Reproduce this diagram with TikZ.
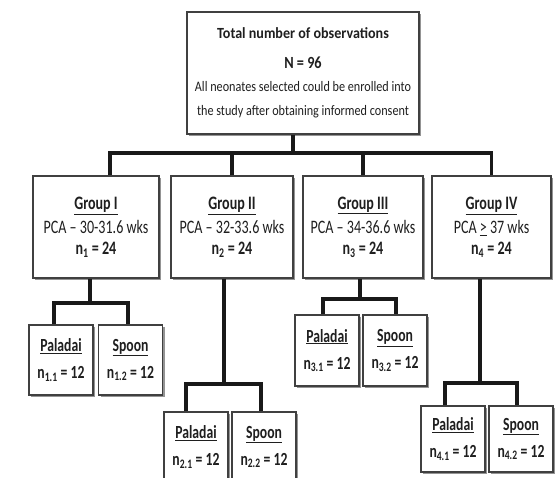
\documentclass[tikz,border=0pt]{standalone}
\usepackage{fontspec}
\setmainfont{Carlito}[FakeStretch=0.74]
\newfontfamily\titlefont{Carlito}[FakeStretch=0.91]
\newfontfamily\notefont{Carlito}[FakeStretch=0.84]
\usetikzlibrary{shadows}
\begin{document}
\begin{tikzpicture}[x=1pt,y=-1pt,
  box/.style={draw=black!75, line width=1.3pt, fill=white, inner sep=0pt, align=center,
    text=black!88, drop shadow={shadow xshift=2pt, shadow yshift=-2pt, fill=black!60, opacity=0.7}},
  conn/.style={line width=3.2pt, black!90},
  gtxt/.style={font=\fontsize{19}{22}\selectfont},
  sub/.style={box, font=\fontsize{18.5}{22}\selectfont\bfseries, minimum width=64pt, minimum height=70pt}]
\useasboundingbox (0,0) rectangle (556,477);
% top box
\node[box, font=\notefont\fontsize{14.5}{22}\selectfont, minimum width=232pt, minimum height=122pt] (top) at (303,73)
  {{\titlefont\bfseries\fontsize{15.5}{22}\selectfont Total number of observations}\\[8pt]
   {\bfseries\fontsize{17}{22}\selectfont N = 96}\\[1pt]
   All neonates selected could be enrolled into\\[2pt]
   the study after obtaining informed consent};
% groups
\node[box, gtxt, minimum width=126pt, minimum height=102pt] (g1) at (96,227)
  {\textbf{\underline{Group I}}\\[2pt] PCA -- 30-31.6 wks\\[-1pt] \textbf{n\textsubscript{1} = 24}};
\node[box, gtxt, minimum width=122pt, minimum height=102pt] (g2) at (232,227)
  {\textbf{\underline{Group II}}\\[2pt] PCA -- 32-33.6 wks\\[-1pt] \textbf{n\textsubscript{2} = 24}};
\node[box, gtxt, minimum width=120pt, minimum height=102pt] (g3) at (363,227)
  {\textbf{\underline{Group III}}\\[2pt] PCA -- 34-36.6 wks\\[-1pt] \textbf{n\textsubscript{3} = 24}};
\node[box, gtxt, minimum width=119pt, minimum height=102pt] (g4) at (491.5,227)
  {\textbf{\underline{Group IV}}\\[2pt] PCA \underline{>} 37 wks\\[-1pt] \textbf{n\textsubscript{4} = 24}};
% subgroups
\node[sub] (s11) at (61,360) {\underline{Paladai}\\[5pt] n\textsubscript{1.1} = 12};
\node[sub] (s12) at (130.5,360) {\underline{Spoon}\\[5pt] n\textsubscript{1.2} = 12};
\node[sub] (s21) at (196,447) {\underline{Paladai}\\[5pt] n\textsubscript{2.1} = 12};
\node[sub] (s22) at (264,447) {\underline{Spoon}\\[5pt] n\textsubscript{2.2} = 12};
\node[sub, minimum height=71pt] (s31) at (327,350.5) {\underline{Paladai}\\[5pt] n\textsubscript{3.1} = 12};
\node[sub, minimum height=71pt] (s32) at (395,350.5) {\underline{Spoon}\\[5pt] n\textsubscript{3.2} = 12};
\node[sub, minimum height=66pt] (s41) at (453,439) {\underline{Paladai}\\[5pt] n\textsubscript{4.1} = 12};
\node[sub, minimum height=66pt] (s42) at (521,439) {\underline{Spoon}\\[5pt] n\textsubscript{4.2} = 12};
% connector coordinates
\coordinate (tb) at (293,153);
\coordinate (g1x) at (110,153);
\coordinate (b1) at (90,303);
\coordinate (b1l) at (54,303);
\coordinate (b1r) at (128,303);
\coordinate (b2) at (224,384);
\coordinate (b2l) at (186,384);
\coordinate (b2r) at (261,384);
\coordinate (b3) at (360,299);
\coordinate (b3l) at (323,299);
\coordinate (b3r) at (396,299);
\coordinate (b4) at (480,383);
\coordinate (b4l) at (445,383);
\coordinate (b4r) at (517,383);
% main connectors
\draw[conn] (top.south -| tb) -- (tb);
\draw[conn] (g1.north -| g1x) -- (g1x) -- (g4.north |- tb) -- (g4.north);
\draw[conn] (g2.north) -- (g2.north |- tb);
\draw[conn] (g3.north) -- (g3.north |- tb);
% sub connectors
\draw[conn] (g1.south -| b1) -- (b1);
\draw[conn] (s11.north -| b1l) -- (b1l) -- (b1r) -- (s12.north -| b1r);
\draw[conn] (g2.south -| b2) -- (b2);
\draw[conn] (s21.north -| b2l) -- (b2l) -- (b2r) -- (s22.north -| b2r);
\draw[conn] (g3.south -| b3) -- (b3);
\draw[conn] (s31.north -| b3l) -- (b3l) -- (b3r) -- (s32.north -| b3r);
\draw[conn] (g4.south -| b4) -- (b4);
\draw[conn] (s41.north -| b4l) -- (b4l) -- (b4r) -- (s42.north -| b4r);
\end{tikzpicture}
\end{document}
